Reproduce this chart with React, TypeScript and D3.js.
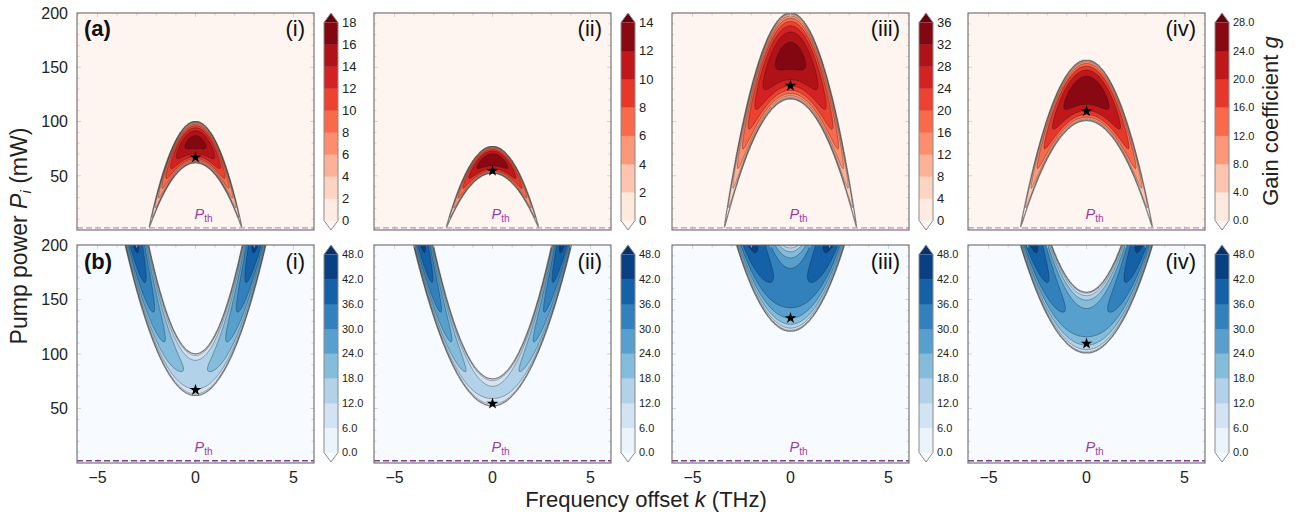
import React, { useMemo } from "react";
import * as d3 from "d3";

// ---------- data ----------
const panelNames = ["(i)", "(ii)", "(iii)", "(iv)"];
// apex of the upper / lower gain-band boundary at k = 0 (mW)
const upperApex = [100, 77, 200, 156.5];
const lowerApex = [62, 52.5, 121, 101];
// frequency offset where the gain band closes (THz)
const bandEdgeK = [2.4, 2.4, 3.4, 3.4];
// operating point (star) pump power (mW)
const starPower = [67, 54.5, 133, 109.5];
// colour-bar levels
const levelsA = [
  [0, 2, 4, 6, 8, 10, 12, 14, 16, 18],
  [0, 2, 4, 6, 8, 10, 12, 14],
  [0, 4, 8, 12, 16, 20, 24, 28, 32, 36],
  [0, 4, 8, 12, 16, 20, 24, 28],
];
const decimalA = [false, false, false, true];
const levelsB = [0, 6, 12, 18, 24, 30, 36, 42, 48];
const xTicks = [-5, 0, 5];
const yTicks = [50, 100, 150, 200];
const pth = 2; // threshold power (mW)
const gainScale = 0.22;

const kDomain: [number, number] = [-6.05, 6.05];
const pDomain: [number, number] = [0, 200];
const NX = 485;
const NY = 401;

const FONT = "'Liberation Sans', Arial, Helvetica, sans-serif";

function computeField(idx: number, sign: number) {
  const up = upperApex[idx], lo = lowerApex[idx], k0 = bandEdgeK[idx];
  const rho = lo / up;
  const alpha = (1 + rho) / (1 - rho);
  const delta = (alpha - 1) * up;
  const vals = new Float64Array(NX * NY);
  const dk = (kDomain[1] - kDomain[0]) / (NX - 1);
  const dp = (pDomain[1] - pDomain[0]) / (NY - 1);
  for (let j = 0; j < NY; j++) {
    const P = pDomain[1] - j * dp;
    for (let i = 0; i < NX; i++) {
      const k = kDomain[0] + i * dk;
      const X = delta * (1 + (sign * k * k) / (k0 * k0));
      const D = P * P - (X - alpha * P) * (X - alpha * P);
      vals[j * NX + i] = gainScale * (Math.sqrt(Math.max(D, 0)) - pth);
    }
  }
  return vals;
}

function geomToPath(geom: any, fx: (c: number) => number, fy: (c: number) => number) {
  let s = "";
  for (const poly of geom.coordinates) {
    for (const ring of poly) {
      for (let i = 0; i < ring.length; i++) {
        s += (i ? "L" : "M") + fx(ring[i][0]).toFixed(2) + "," + fy(ring[i][1]).toFixed(2);
      }
      s += "Z";
    }
  }
  return s;
}

const lefts = [77, 374, 672, 968];
const plotW = 237;
const rowsGeo = [
  { top: 13, bottom: 230 },
  { top: 245, bottom: 463 },
];

function Panel({ row, idx }: { row: number; idx: number }) {
  const left = lefts[idx];
  const right = left + plotW;
  const { top, bottom } = rowsGeo[row];
  const xs = d3.scaleLinear().domain(kDomain).range([left, right]);
  const ys = d3.scaleLinear().domain(pDomain).range([bottom, top]);
  const levels = row === 0 ? levelsA[idx] : levelsB;
  const decimal = row === 0 ? decimalA[idx] : true;
  const interp = row === 0 ? d3.interpolateReds : d3.interpolateBlues;
  const n = levels.length - 1;
  const underColor = interp(0);
  const overColor = interp(1);
  const bandColor = (i: number) => interp((i + 0.5) / n);
  const fillFor = (ti: number) => (ti < n ? bandColor(ti) : overColor);

  const paths = useMemo(() => {
    const vals = computeField(idx, row === 0 ? -1 : 1);
    const cs = d3.contours().size([NX, NY]).thresholds(levels)(Array.from(vals));
    const dk = (kDomain[1] - kDomain[0]) / (NX - 1);
    const dp = (pDomain[1] - pDomain[0]) / (NY - 1);
    const fx = (c: number) => xs(kDomain[0] + (c - 0.5) * dk);
    const fy = (c: number) => ys(pDomain[1] - (c - 0.5) * dp);
    return cs.map((c) => ({ value: c.value, d: geomToPath(c, fx, fy) }));
  }, [row, idx]);

  const clipId = `clip-${row}-${idx}`;
  const lineColor = row === 0 ? "#c98ace" : "#7d3f95";

  // colourbar geometry
  const cbX0 = right + 10;
  const cbW = 14;
  const tipTop = top;
  const rectTop = top + 9.5;
  const rectBot = top + 207.5;
  const tipBot = top + 217;
  const cbY = d3.scaleLinear().domain([levels[0], levels[n]]).range([rectBot, rectTop]);
  const cx = cbX0 + cbW / 2;
  const outline = `M${cbX0},${rectTop}L${cx},${tipTop}L${cbX0 + cbW},${rectTop}L${cbX0 + cbW},${rectBot}L${cx},${tipBot}L${cbX0},${rectBot}Z`;

  const minorX = d3.range(-6, 7, 1);
  const minorY = d3.range(10, 200, 10);

  return (
    <g>
      <defs>
        <clipPath id={clipId}>
          <rect x={left} y={top} width={plotW} height={bottom - top} />
        </clipPath>
      </defs>
      <g clipPath={`url(#${clipId})`}>
        <rect x={left} y={top} width={plotW} height={bottom - top} fill={underColor} />
        {paths.map((p, i) => (
          <path key={"f" + i} d={p.d} fill={fillFor(i)} fillRule="evenodd" />
        ))}
        {paths.map((p, i) => (
          <path
            key={"l" + i}
            d={p.d}
            fill="none"
            stroke={i === 0 ? "#707070" : "#1a1a1a"}
            strokeOpacity={i === 0 ? 0.9 : 0.65}
            strokeWidth={i === 0 ? 1.2 : 0.55}
          />
        ))}
        {/* inner ticks */}
        {minorX.map((v) => (
          <g key={"tx" + v}>
            <line x1={xs(v)} x2={xs(v)} y1={top} y2={top + (v % 5 === 0 ? 4 : 2.5)} stroke="#c9c9c9" strokeWidth={0.8} />
            <line x1={xs(v)} x2={xs(v)} y1={bottom} y2={bottom - (v % 5 === 0 ? 4 : 2.5)} stroke="#c9c9c9" strokeWidth={0.8} />
          </g>
        ))}
        {minorY.map((v) => (
          <g key={"ty" + v}>
            <line x1={left} x2={left + (v % 50 === 0 ? 4 : 2.5)} y1={ys(v)} y2={ys(v)} stroke="#c9c9c9" strokeWidth={0.8} />
            <line x1={right} x2={right - (v % 50 === 0 ? 4 : 2.5)} y1={ys(v)} y2={ys(v)} stroke="#c9c9c9" strokeWidth={0.8} />
          </g>
        ))}
        <line
          x1={left}
          x2={right}
          y1={ys(pth)}
          y2={ys(pth)}
          stroke={lineColor}
          strokeWidth={1.4}
          strokeDasharray="6,3"
        />
      </g>
      <rect x={left} y={top} width={plotW} height={bottom - top} fill="none" stroke="#777" strokeWidth={1.2} />
      {/* star */}
      <path
        d={d3.symbol().type(d3.symbolStar).size(42)() as string}
        transform={`translate(${xs(0)},${ys(starPower[idx])})`}
        fill="#000"
      />
      {/* P_th label */}
      <text x={xs(0) - 1} y={bottom - 11} fontFamily={FONT} fontSize={14.5} fill="#9b3aab">
        <tspan fontStyle="italic">P</tspan>
        <tspan fontSize={10} dy={3}>th</tspan>
      </text>
      {/* panel label */}
      <text x={right - 9} y={row === 0 ? top + 23 : top + 24} textAnchor="end" fontFamily={FONT} fontSize={22} fill="#111">
        {panelNames[idx]}
      </text>
      {idx === 0 && (
        <text x={left + 7} y={row === 0 ? top + 23 : top + 24} fontFamily={FONT} fontSize={22} fontWeight="bold" fill="#111">
          {row === 0 ? "(a)" : "(b)"}
        </text>
      )}
      {/* y ticks */}
      {idx === 0 &&
        yTicks.map((v) => (
          <text key={"yl" + v} x={left - 9} y={ys(v)} dy="0.36em" textAnchor="end" fontFamily={FONT} fontSize={16} fill="#222">
            {v}
          </text>
        ))}
      {/* x ticks */}
      {row === 1 &&
        xTicks.map((v) => (
          <text key={"xl" + v} x={xs(v)} y={bottom + 20} textAnchor="middle" fontFamily={FONT} fontSize={16} fill="#222">
            {v < 0 ? "\u2212" + Math.abs(v) : String(v)}
          </text>
        ))}
      {/* colourbar */}
      <g>
        <path d={`M${cbX0},${rectTop}L${cx},${tipTop}L${cbX0 + cbW},${rectTop}Z`} fill={overColor} />
        <path d={`M${cbX0},${rectBot}L${cx},${tipBot}L${cbX0 + cbW},${rectBot}Z`} fill={underColor} />
        {d3.range(n).map((i) => (
          <rect
            key={"cb" + i}
            x={cbX0}
            y={cbY(levels[i + 1])}
            width={cbW}
            height={cbY(levels[i]) - cbY(levels[i + 1]) + 0.3}
            fill={bandColor(i)}
          />
        ))}
        <path d={outline} fill="none" stroke="#8a8a8a" strokeWidth={1} />
        {levels.map((v) => (
          <text
            key={"cl" + v}
            x={cbX0 + cbW + 4}
            y={cbY(v)}
            dy="0.36em"
            fontFamily={FONT}
            fontSize={decimal ? 11 : 13}
            fill="#222"
          >
            {decimal ? v.toFixed(1) : String(v)}
          </text>
        ))}
      </g>
    </g>
  );
}

export default function App() {
  return (
    <svg
      width={1300}
      height={516}
      viewBox="0 0 1300 516"
      style={{ position: "absolute", left: 0, top: 0, background: "#fff" }}
    >
      <rect x={0} y={0} width={1300} height={516} fill="#fff" />
      {[0, 1].map((row) =>
        [0, 1, 2, 3].map((idx) => <Panel key={`${row}-${idx}`} row={row} idx={idx} />)
      )}
      <text
        transform="translate(27,236) rotate(-90)"
        textAnchor="middle"
        fontFamily={FONT}
        fontSize={23}
        fill="#222"
      >
        Pump power <tspan fontStyle="italic">P</tspan>
        <tspan fontSize={15} fontStyle="italic" dy={4}>i</tspan>
        <tspan dy={-4}> (mW)</tspan>
      </text>
      <text x={646} y={507} textAnchor="middle" fontFamily={FONT} fontSize={22} fill="#222">
        Frequency offset <tspan fontStyle="italic">k</tspan> (THz)
      </text>
      <text
        transform="translate(1278,121) rotate(-90)"
        textAnchor="middle"
        fontFamily={FONT}
        fontSize={22}
        fill="#222"
      >
        Gain coefficient <tspan fontStyle="italic">g</tspan>
      </text>
    </svg>
  );
}
